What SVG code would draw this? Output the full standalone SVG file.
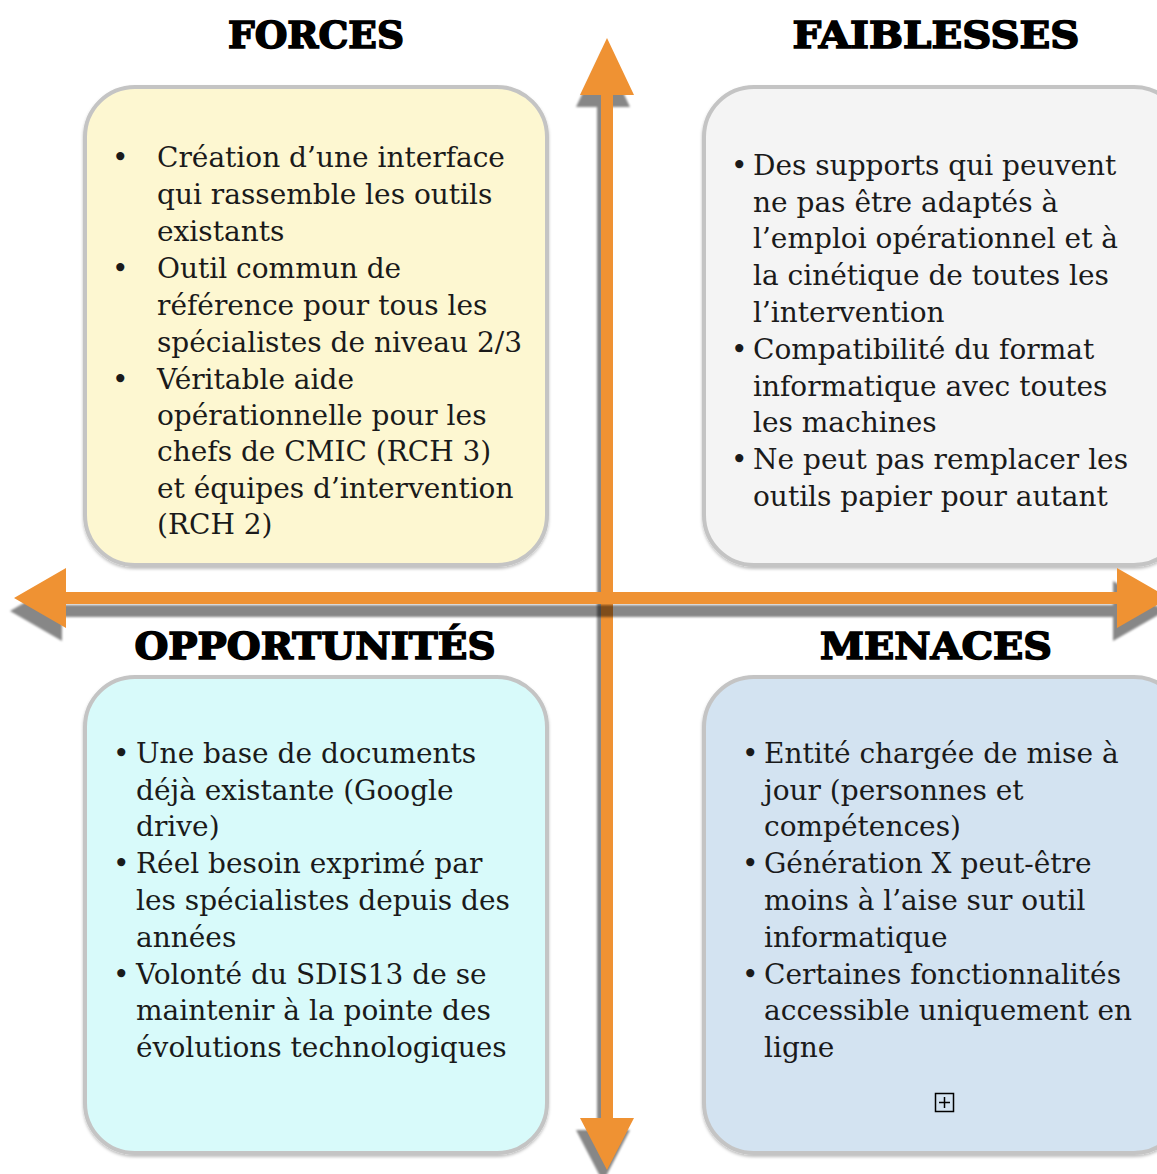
<svg xmlns="http://www.w3.org/2000/svg" width="1157" height="1174" viewBox="0 0 1157 1174">
<defs>
<style>
.title{font-family:"DejaVu Serif","Liberation Serif",serif;font-weight:bold;font-size:38px;fill:#000;stroke:#000;stroke-width:1.6px;text-anchor:middle}
.body{font-family:"DejaVu Serif","Liberation Serif",serif;font-size:28px;fill:#1a1a1a}
.box{stroke:#c4c4c4;stroke-width:4}
.arrow{fill:#ef9233}
.shadow{fill:#000;fill-opacity:0.47}
</style>
<filter id="soft" x="-5%" y="-5%" width="110%" height="110%"><feGaussianBlur stdDeviation="1"/></filter>
<filter id="boxsh" x="-5%" y="-5%" width="110%" height="110%"><feDropShadow dx="0" dy="2" stdDeviation="1.5" flood-color="#000" flood-opacity="0.25"/></filter>
</defs>
<rect width="1157" height="1174" fill="#fff"/>

<g id="forces">
<rect class="box" x="85" y="87" width="462" height="478" rx="50" fill="#fdf7d1" filter="url(#boxsh)"/>
<text class="title" x="316" y="48" textLength="176" lengthAdjust="spacingAndGlyphs">FORCES</text>
<g class="body">
<text x="112" y="167">•</text><text x="157" y="167">Création d’une interface</text>
<text x="157" y="204">qui rassemble les outils</text>
<text x="157" y="241">existants</text>
<text x="112" y="278">•</text><text x="157" y="278">Outil commun de</text>
<text x="157" y="315">référence pour tous les</text>
<text x="157" y="352">spécialistes de niveau 2/3</text>
<text x="112" y="389">•</text><text x="157" y="389">Véritable aide</text>
<text x="157" y="425">opérationnelle pour les</text>
<text x="157" y="461">chefs de CMIC (RCH 3)</text>
<text x="157" y="498">et équipes d’intervention</text>
<text x="157" y="534">(RCH 2)</text>
</g>
</g>

<g id="faiblesses">
<rect class="box" x="704" y="87" width="480" height="478" rx="50" fill="#f4f4f4" filter="url(#boxsh)"/>
<text class="title" x="936" y="48" textLength="287" lengthAdjust="spacingAndGlyphs">FAIBLESSES</text>
<g class="body">
<text x="731" y="175">•</text><text x="753" y="175">Des supports qui peuvent</text>
<text x="753" y="212">ne pas être adaptés à</text>
<text x="753" y="248">l’emploi opérationnel et à</text>
<text x="753" y="285">la cinétique de toutes les</text>
<text x="753" y="322">l’intervention</text>
<text x="731" y="359">•</text><text x="753" y="359">Compatibilité du format</text>
<text x="753" y="396">informatique avec toutes</text>
<text x="753" y="432">les machines</text>
<text x="731" y="469">•</text><text x="753" y="469">Ne peut pas remplacer les</text>
<text x="753" y="506">outils papier pour autant</text>
</g>
</g>

<g id="opportunites">
<rect class="box" x="85" y="677" width="462" height="476" rx="50" fill="#d8fafa" filter="url(#boxsh)"/>
<text class="title" x="315" y="659" textLength="361" lengthAdjust="spacingAndGlyphs">OPPORTUNITÉS</text>
<g class="body">
<text x="113" y="763">•</text><text x="136" y="763">Une base de documents</text>
<text x="136" y="800">déjà existante (Google</text>
<text x="136" y="836">drive)</text>
<text x="113" y="873">•</text><text x="136" y="873">Réel besoin exprimé par</text>
<text x="136" y="910">les spécialistes depuis des</text>
<text x="136" y="947">années</text>
<text x="113" y="984">•</text><text x="136" y="984">Volonté du SDIS13 de se</text>
<text x="136" y="1020">maintenir à la pointe des</text>
<text x="136" y="1057">évolutions technologiques</text>
</g>
</g>

<g id="menaces">
<rect class="box" x="704" y="677" width="480" height="476" rx="50" fill="#d3e3f1" filter="url(#boxsh)"/>
<text class="title" x="936" y="659" textLength="232" lengthAdjust="spacingAndGlyphs">MENACES</text>
<g class="body">
<text x="742" y="763">•</text><text x="764" y="763">Entité chargée de mise à</text>
<text x="764" y="800">jour (personnes et</text>
<text x="764" y="836">compétences)</text>
<text x="742" y="873">•</text><text x="764" y="873">Génération X peut-être</text>
<text x="764" y="910">moins à l’aise sur outil</text>
<text x="764" y="947">informatique</text>
<text x="742" y="984">•</text><text x="764" y="984">Certaines fonctionnalités</text>
<text x="764" y="1020">accessible uniquement en</text>
<text x="764" y="1057">ligne</text>
</g>
<rect x="935.5" y="1093.5" width="18" height="18" fill="none" stroke="#000" stroke-width="1.5"/>
<path d="M944.5 1097v11M939 1102.5h11" stroke="#000" stroke-width="1.5"/>
</g>

<g id="connectors">
<g id="vertical-axis">
<path class="shadow" filter="url(#soft)" transform="translate(-4,12)" d="M601 95H580L607 38L634 95H613V1118H634L607 1170L580 1118H601Z"/>
<path class="arrow" d="M601 95H580L607 38L634 95H613V1118H634L607 1170L580 1118H601Z"/>
</g>
<g id="horizontal-axis">
<path class="shadow" filter="url(#soft)" transform="translate(-4,13)" d="M66 592V568L14 598L66 628V604H1117V628L1169 598L1117 568V592Z"/>
<path class="arrow" d="M66 592V568L14 598L66 628V604H1117V628L1169 598L1117 568V592Z"/>
</g>
</g>
</svg>
